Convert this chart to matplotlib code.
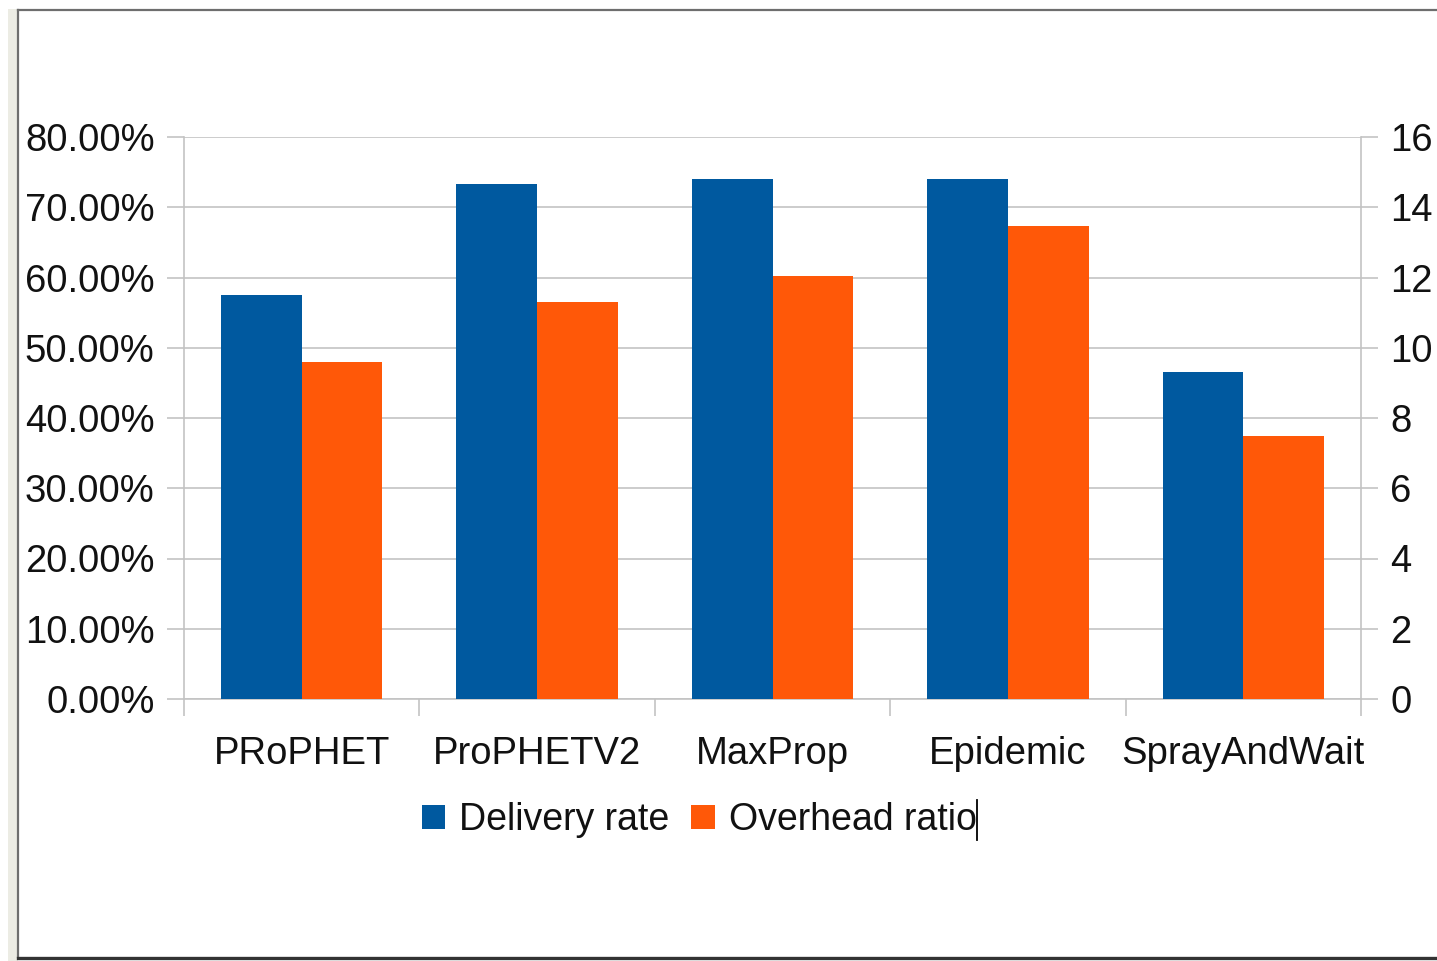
import matplotlib
matplotlib.use("Agg")
import matplotlib.pyplot as plt
from matplotlib.patches import Rectangle
from matplotlib.lines import Line2D
from matplotlib.ticker import FuncFormatter, FixedLocator
import numpy as np

plt.rcParams['font.family'] = ['Liberation Sans', 'DejaVu Sans']

# Routing protocols compared in the simulation
protocols = ["PRoPHET", "ProPHETV2", "MaxProp", "Epidemic", "SprayAndWait"]
# Message delivery rate, percent (left axis)
delivery_rate = [57.5, 73.3, 74.0, 74.0, 46.6]
# Overhead ratio (right axis)
overhead_ratio = [9.60, 11.31, 12.05, 13.48, 7.49]

left_ticks = [0, 10, 20, 30, 40, 50, 60, 70, 80]
right_ticks = [0, 2, 4, 6, 8, 10, 12, 14, 16]

BLUE = "#00599f"
ORANGE = "#ff5808"
GRID = "#c3c3c3"
TEXT = "#111111"
FS = 27.5

W, H = 1437, 961
fig = plt.figure(figsize=(W / 100, H / 100), dpi=100)
fig.patch.set_facecolor("white")

# window frame around the chart
fig.add_artist(Rectangle((8 / W, 0), 10 / W, 1 - 9 / H, transform=fig.transFigure,
                         facecolor="#ecece4", edgecolor="none", zorder=0))
fig.add_artist(Line2D([18 / W, 1], [1 - 10 / H, 1 - 10 / H], transform=fig.transFigure,
                      color="#6e6e6e", lw=1.6))
fig.add_artist(Line2D([18 / W, 18 / W], [1 - 10 / H, 1 - 957 / H], transform=fig.transFigure,
                      color="#6e6e6e", lw=1.6))
fig.add_artist(Line2D([18 / W, 1], [1 - 957.5 / H, 1 - 957.5 / H], transform=fig.transFigure,
                      color="#333333", lw=2.4))

x0, x1, y0, y1 = 184, 1361, 137, 699
ax = fig.add_axes([x0 / W, 1 - y1 / H, (x1 - x0) / W, (y1 - y0) / H])
ax2 = ax.twinx()

x = np.arange(len(protocols))
bw = 0.343
ax.bar(x - bw / 2, delivery_rate, width=bw, color=BLUE, label="Delivery rate", zorder=3)
ax2.bar(x + bw / 2, overhead_ratio, width=bw, color=ORANGE, label="Overhead ratio", zorder=3)

ax.set_xlim(-0.5, len(protocols) - 0.5)
ax.set_ylim(0, 80)
ax2.set_ylim(0, 16)

ax.set_yticks(left_ticks)
ax.yaxis.set_major_formatter(FuncFormatter(lambda v, p: f"{v:.2f}%"))
ax2.set_yticks(right_ticks)
ax2.set_yticklabels([str(t) for t in right_ticks])

ax.set_axisbelow(True)
ax.yaxis.grid(True, color=GRID, lw=1.2)

# category boundaries carry the ticks, labels sit at the centres
ax.xaxis.set_major_locator(FixedLocator(np.arange(len(protocols) + 1) - 0.5))
ax.xaxis.set_major_formatter(FuncFormatter(lambda v, p: ""))
ax.xaxis.set_minor_locator(FixedLocator(x))
ax.set_xticklabels(protocols, minor=True)

for a in (ax, ax2):
    for s in a.spines.values():
        s.set_visible(False)

ax.spines["left"].set_visible(True)
ax.spines["left"].set_color(GRID)
ax.spines["left"].set_linewidth(1.2)
ax2.spines["right"].set_visible(True)
ax2.spines["right"].set_color(GRID)
ax2.spines["right"].set_linewidth(1.2)
ax.spines["bottom"].set_visible(True)
ax.spines["bottom"].set_color(GRID)
ax.spines["bottom"].set_linewidth(1.2)

tick_len = 12.2
ax.tick_params(axis="y", direction="out", length=tick_len, width=1.2, color=GRID,
               labelsize=FS, labelcolor=TEXT, pad=9)
ax2.tick_params(axis="y", direction="out", length=tick_len, width=1.2, color=GRID,
                labelsize=FS, labelcolor=TEXT, pad=9)
ax.tick_params(axis="x", which="major", direction="out", length=tick_len, width=1.2, color=GRID)
ax.tick_params(axis="x", which="minor", length=0, labelsize=FS, labelcolor=TEXT, pad=27)

h1, l1 = ax.get_legend_handles_labels()
h2, l2 = ax2.get_legend_handles_labels()
leg = fig.legend(h1 + h2, l1 + l2, loc="center", bbox_to_anchor=(699 / W, 1 - 820 / H),
                 ncol=2, frameon=False, fontsize=27, handlelength=0.62, handleheight=0.62,
                 handletextpad=0.37, columnspacing=0.6, borderpad=0, labelcolor=TEXT)

# text caret after the legend label
fig.canvas.draw()
txt = leg.get_texts()[-1]
bb = txt.get_window_extent()
inv = fig.transFigure.inverted()
(cx, cy0), = inv.transform([(bb.x1 + 1, bb.y0 - 2)])
(_, cy1), = inv.transform([(bb.x1 + 1, bb.y1 + 2)])
fig.add_artist(Line2D([cx, cx], [cy0, cy1], transform=fig.transFigure, color="black", lw=1.3))

fig.savefig("out.png", dpi=100)
